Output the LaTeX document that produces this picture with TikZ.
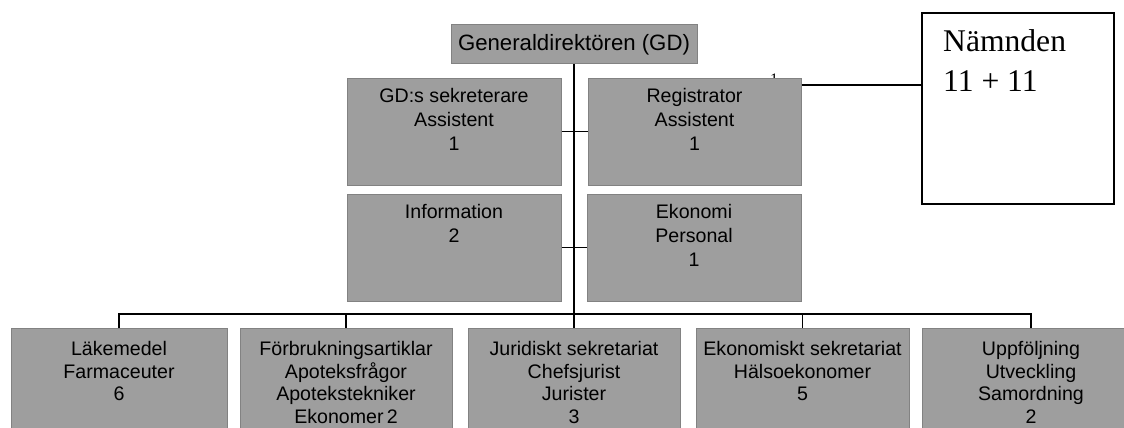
\documentclass[tikz,border=0pt]{standalone}
\usepackage{fontspec}
\setmainfont{Liberation Sans}
\newfontfamily\tnr{Liberation Serif}
\definecolor{boxfill}{RGB}{158,158,158}
\definecolor{boxline}{RGB}{130,130,130}
\begin{document}
\begin{tikzpicture}[x=1pt,y=-1pt,
  unit/.style={draw=boxline, line width=1pt, fill=boxfill, rectangle, inner sep=0pt, minimum width=#1},
  unit/.default=214pt,
  mid/.style={unit, minimum height=107pt},
  low/.style={unit, minimum height=112pt},
  txt/.style={inner sep=0pt, align=center, anchor=north, font=\fontsize{19.6}{23.8}\selectfont},
  lowtxt/.style={txt, font=\fontsize{19.6}{22.4}\selectfont},
  conn/.style={line width=1.6pt, black},
  trunk/.style={line width=1.9pt, black}]
\useasboundingbox (0,0) rectangle (1124,428);
\clip (0,0) rectangle (1124,428);
\fill[white] (0,0) rectangle (1124,428);

% hidden "1" fragment behind Registrator
\node[inner sep=0pt, anchor=north, font=\tnr\fontsize{16}{16}\selectfont] (one) at (774,74) {1};

% top
\node[unit=246pt, minimum height=39pt, font=\fontsize{22.2}{26}\selectfont] (gd) at (574,44.5) {Generaldirektören (GD)};

% middle rows
\node[mid] (sek) at (454,131.5) {};
\node[mid, unit=213pt] (reg) at (694.5,131.5) {};
\node[mid] (info) at (454,247.5) {};
\node[mid] (eko) at (694,247.5) {};

\node[txt] (sekT) at ([yshift=-11pt]sek.north) {GD:s sekreterare\\Assistent\\1};
\node[txt] (regT) at ([yshift=-11pt]reg.north) {Registrator\\Assistent\\1};
\node[txt] (infoT) at ([yshift=-11pt]info.north) {Information\\2};
\node[txt] (ekoT) at ([yshift=-11pt]eko.north) {Ekonomi\\Personal\\1};

% Nämnden
\node[draw=black, line width=1.4pt, fill=white, minimum width=192pt, minimum height=191pt, inner sep=0pt] (namnd) at (1018,108.5) {};
\node[inner sep=0pt, anchor=north west, align=left, font=\tnr\fontsize{31.6}{40}\selectfont] (namndT) at (943,29) {Nämnden\\11 + 11};

% bottom row
\node[low, unit=216pt] (b1) at (119,384) {};
\node[low, unit=212pt] (b2) at (346,384) {};
\node[low, unit=212pt] (b3) at (574,384) {};
\node[low, unit=213pt] (b4) at (802.5,384) {};
\node[low, unit=218pt] (b5) at (1031,384) {};

\node[lowtxt] (b1T) at ([yshift=-14pt]b1.north) {Läkemedel\\Farmaceuter\\6};
\node[lowtxt] (b2T) at ([yshift=-14pt]b2.north) {Förbrukningsartiklar\\Apoteksfrågor\\Apotekstekniker\\Ekonomer\,2};
\node[lowtxt] (b3T) at ([yshift=-14pt]b3.north) {Juridiskt sekretariat\\Chefsjurist\\Jurister\\3};
\node[lowtxt] (b4T) at ([yshift=-14pt]b4.north) {Ekonomiskt sekretariat\\Hälsoekonomer\\5};
\node[lowtxt] (b5T) at ([yshift=-14pt]b5.north) {Uppföljning\\Utveckling\\Samordning\\2};

% connectors
\coordinate (bar) at (0,314);
\coordinate (nl) at (0,85);
\draw[trunk] (gd.south) -- (b3.north);
\draw[conn] (sek.east) -- (reg.west);
\draw[conn] (info.east) -- (eko.west);
\draw[conn] (reg.east |- nl) -- (namnd.west |- nl);
\draw[conn] (b1.north) -- (b1.north |- bar) -- (b5.north |- bar) -- (b5.north);
\draw[conn] (b2.north) -- (b2.north |- bar);
\draw[conn] (b4.north) -- (b4.north |- bar);
\end{tikzpicture}
\end{document}
